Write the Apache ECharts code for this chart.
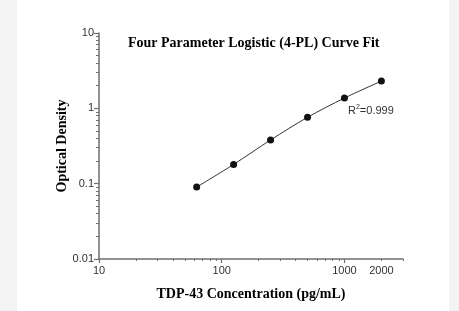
<!DOCTYPE html>
<html>
<head>
<meta charset="utf-8">
<script src="https://cdn.jsdelivr.net/npm/echarts@6/dist/echarts.min.js"></script>
<style>
  html, body { margin: 0; padding: 0; background: #f3f3f3; }
  #chart { position: absolute; left: 17px; top: 0; width: 432px; height: 311px; background: #fff; }
</style>
</head>
<body>
<div id="chart"></div>
<script>
// standard concentrations (pg/mL) and measured OD
const concentrations = [62.5, 125, 250, 500, 1000, 2000];
const odValues = [0.09, 0.18, 0.38, 0.76, 1.37, 2.3];

const xMajorTicks = [10, 100, 1000];
const xMinorTicks = [20, 30, 40, 50, 60, 70, 80, 90, 200, 300, 400, 500, 600, 700, 800, 900, 2000, 3000];
const xLabels = [10, 100, 1000, 2000];

const yMajorTicks = [0.01, 0.1, 1, 10];
const yMinorTicks = [0.02, 0.03, 0.04, 0.05, 0.06, 0.07, 0.08, 0.09,
  0.2, 0.3, 0.4, 0.5, 0.6, 0.7, 0.8, 0.9, 2, 3, 4, 5, 6, 7, 8, 9];

const axisGray = "#6f6f6f";
const serif = "'Liberation Serif', 'Times New Roman', serif";
const sans = "'Liberation Sans', Arial, sans-serif";

const chart = echarts.init(document.getElementById("chart"));

const baseX = {
  type: "log", logBase: 10, min: 10, max: 3000,
  position: "bottom", offset: 0,
  splitLine: { show: false },
};
const baseY = {
  type: "log", logBase: 10, min: 0.01, max: 10,
  position: "left", offset: 0,
  splitLine: { show: false },
};

chart.setOption({
  animation: false,
  title: {
    text: "Four Parameter Logistic (4-PL) Curve Fit",
    left: 106, top: 31,
    textStyle: { fontFamily: serif, fontWeight: "bold", fontSize: 14, color: "#000" },
  },
  grid: { left: 82, right: 46, top: 33, bottom: 52 },
  xAxis: [
    {
      ...baseX,
      name: "TDP-43 Concentration (pg/mL)",
      nameLocation: "middle",
      nameGap: 28,
      nameTextStyle: { fontFamily: serif, fontWeight: "bold", fontSize: 14, color: "#000" },
      axisLine: { lineStyle: { color: axisGray, width: 1.5 } },
      axisTick: { length: 4, customValues: xMajorTicks, lineStyle: { color: axisGray, width: 1.2 } },
      axisLabel: {
        customValues: xLabels, margin: 6,
        fontFamily: sans, fontSize: 11, color: "#333",
        formatter: v => String(Math.round(v)),
      },
    },
    {
      ...baseX,
      axisLine: { show: false },
      axisTick: { length: 2, customValues: xMinorTicks, lineStyle: { color: axisGray, width: 1 } },
      axisLabel: { show: false },
    },
  ],
  yAxis: [
    {
      ...baseY,
      name: "Optical Density",
      nameLocation: "middle",
      nameGap: 30,
      nameMoveOverlap: false,
      nameTextStyle: { fontFamily: serif, fontWeight: "bold", fontSize: 14, color: "#000" },
      axisLine: { show: true, lineStyle: { color: axisGray, width: 1.5 } },
      axisTick: { show: true, length: 5, customValues: yMajorTicks, lineStyle: { color: axisGray, width: 1.2 } },
      axisLabel: {
        customValues: yMajorTicks, margin: 5,
        fontFamily: sans, fontSize: 11, color: "#333",
        formatter: v => String(v),
      },
    },
    {
      ...baseY,
      axisLine: { show: false },
      axisTick: { show: true, length: 3, customValues: yMinorTicks, lineStyle: { color: axisGray, width: 1 } },
      axisLabel: { show: false },
    },
  ],
  graphic: [
    {
      type: "text", left: 331, top: 104,
      style: {
        text: "R{sup|2}=0.999",
        fontFamily: sans, fontSize: 11, fill: "#333",
        rich: { sup: { fontSize: 7, verticalAlign: "top", padding: [0, 0, 6, 0], fontFamily: sans, fill: "#333" } },
      },
    },
  ],
  series: [
    {
      type: "line",
      data: concentrations.map((c, i) => [c, odValues[i]]),
      smooth: 0.3,
      symbol: "circle",
      symbolSize: 7,
      itemStyle: { color: "#111" },
      lineStyle: { color: "#333", width: 1 },
    },
  ],
});
</script>
</body>
</html>
